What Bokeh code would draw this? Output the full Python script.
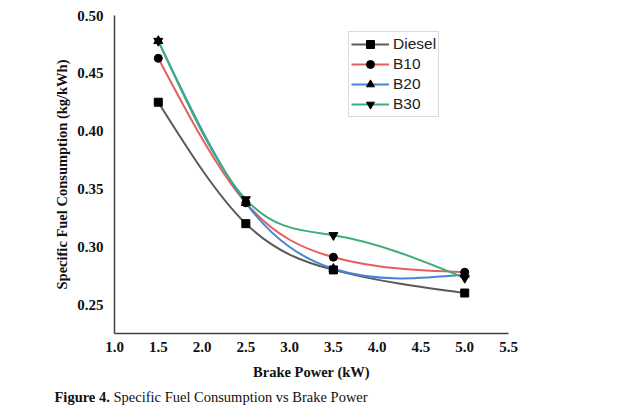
import numpy as np
from bokeh.plotting import figure
from bokeh.layouts import column
from bokeh.models import (Legend, LegendItem, FixedTicker, NumeralTickFormatter,
                          Range1d)
from bokeh.core.properties import value
from bokeh.embed import file_html
from bokeh.resources import INLINE

# ---- data ----
brake_power = [1.5, 2.5, 3.5, 5.0]
sfc_diesel = [0.425, 0.320, 0.280, 0.260]
sfc_b10 = [0.463, 0.338, 0.291, 0.278]
sfc_b20 = [0.478, 0.338, 0.281, 0.276]
sfc_b30 = [0.478, 0.341, 0.310, 0.273]
series_names = ["Diesel", "B10", "B20", "B30"]
x_ticks = [1.0, 1.5, 2.0, 2.5, 3.0, 3.5, 4.0, 4.5, 5.0, 5.5]
y_ticks = [0.25, 0.30, 0.35, 0.40, 0.45, 0.50]
caption_bold = "Figure 4."
caption_text = "Specific Fuel Consumption vs Brake Power"

colors = ["#5a5a5a", "#e36060", "#4584d8", "#3fae78"]
markers = ["square", "circle", "triangle", "inverted_triangle"]
msizes = [8, 8, 9, 9]

SERIF = "Liberation Serif"

p = figure(width=642, height=385, output_backend="svg", toolbar_location=None,
           x_range=Range1d(1.0, 5.5), y_range=Range1d(0.225, 0.50),
           min_border_left=114, min_border_right=134, min_border_top=15,
           min_border_bottom=52)
p.outline_line_color = None
p.xgrid.grid_line_color = None
p.ygrid.grid_line_color = None
p.background_fill_color = "white"
p.border_fill_color = "white"


def spline_bezier(xs, ys):
    """Natural cubic spline through the points, expressed as Bezier segments."""
    xs = np.asarray(xs, float)
    ys = np.asarray(ys, float)
    n = len(xs)
    h = np.diff(xs)
    d = np.diff(ys) / h
    A = np.zeros((n, n))
    b = np.zeros(n)
    A[0, 0] = 1.0
    A[-1, -1] = 1.0
    for i in range(1, n - 1):
        A[i, i - 1] = h[i - 1]
        A[i, i] = 2 * (h[i - 1] + h[i])
        A[i, i + 1] = h[i]
        b[i] = 6 * (d[i] - d[i - 1])
    M = np.linalg.solve(A, b)
    s0 = d - h * (2 * M[:-1] + M[1:]) / 6.0
    s1 = d + h * (M[:-1] + 2 * M[1:]) / 6.0
    return dict(x0=xs[:-1], y0=ys[:-1], x1=xs[1:], y1=ys[1:],
                cx0=xs[:-1] + h / 3.0, cy0=ys[:-1] + s0 * h / 3.0,
                cx1=xs[1:] - h / 3.0, cy1=ys[1:] - s1 * h / 3.0)


items = []
all_series = [sfc_diesel, sfc_b10, sfc_b20, sfc_b30]
for name, ys, c, m, s in zip(series_names, all_series, colors, markers, msizes):
    cp = spline_bezier(brake_power, ys)
    br = p.bezier(x0=cp["x0"], y0=cp["y0"], x1=cp["x1"], y1=cp["y1"],
                  cx0=cp["cx0"], cy0=cp["cy0"], cx1=cp["cx1"], cy1=cp["cy1"],
                  line_color=c, line_width=2)
    items.append([name, br, m, s, ys])

for it in items:
    name, br, m, s, ys = it
    sr = p.scatter(brake_power, ys, marker=m, size=s, fill_color="black",
                   line_color="black")
    it.append(sr)

legend_items = [LegendItem(label=it[0], renderers=[it[1], it[5]]) for it in items]

legend = Legend(items=legend_items, location=(234, 216),
                label_text_font="Liberation Sans", label_text_font_size="15.5px",
                label_text_color="#222222",
                glyph_width=38, glyph_height=20, label_height=20,
                label_standoff=4, spacing=0, padding=2, margin=0,
                border_line_color="#b8b8b8", border_line_width=1.5,
                background_fill_alpha=1.0)
p.add_layout(legend, "center")

# axes
for ax in (p.xaxis[0], p.yaxis[0]):
    ax.axis_line_color = "#404040"
    ax.axis_line_width = 1.5
    ax.major_tick_line_color = None
    ax.minor_tick_line_color = None
    ax.major_tick_out = 0
    ax.major_tick_in = 0
    ax.major_label_text_font = SERIF
    ax.major_label_text_font_style = "bold"
    ax.major_label_text_font_size = "15px"
    ax.major_label_text_color = "#111111"
    ax.axis_label_text_font = SERIF
    ax.axis_label_text_font_style = "bold"
    ax.axis_label_text_font_size = "14.5px"
    ax.axis_label_text_color = "#111111"

p.xaxis.ticker = FixedTicker(ticks=x_ticks)
p.yaxis.ticker = FixedTicker(ticks=y_ticks)
p.xaxis.formatter = NumeralTickFormatter(format="0.0")
p.yaxis.formatter = NumeralTickFormatter(format="0.00")
p.xaxis.major_label_standoff = 8
p.yaxis.major_label_standoff = 11
p.xaxis.axis_label = "Brake Power (kW)"
p.yaxis.axis_label = "Specific Fuel Consumption (kg/kWh)"
p.xaxis.axis_label_standoff = 9
p.yaxis.axis_label_standoff = 4

# caption strip (separate SVG figure under the chart)
cap = figure(width=642, height=31, output_backend="svg", toolbar_location=None,
             x_range=Range1d(0, 642), y_range=Range1d(0, 31),
             min_border=0, min_border_left=0, min_border_right=0,
             min_border_top=0, min_border_bottom=0)
cap.axis.visible = False
cap.grid.visible = False
cap.outline_line_color = None
cap.background_fill_color = "white"
cap.border_fill_color = "white"
cap.text(x=[54], y=[20], text=[caption_bold], text_font=value(SERIF),
         text_font_style="bold", text_font_size="14.5px", text_color="#111111",
         text_baseline="middle", text_align="left")
cap.text(x=[113], y=[20], text=[caption_text], text_font=value(SERIF),
         text_font_size="14.5px", text_color="#111111",
         text_baseline="middle", text_align="left")

for fig in (p, cap):
    if "frame_align" in fig.properties():
        fig.frame_align = False

layout = column(p, cap, spacing=0)
open("out.html", "w").write(file_html(layout, INLINE))
